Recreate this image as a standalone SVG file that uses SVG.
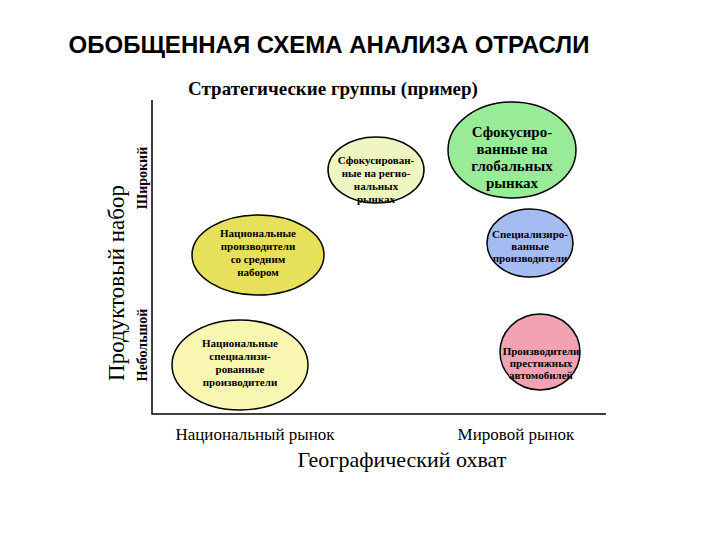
<svg xmlns="http://www.w3.org/2000/svg" width="720" height="540" viewBox="0 0 720 540">
<style>
.e{stroke:#000;stroke-width:1.5}
.t{font-family:"Liberation Serif",serif;font-weight:bold;fill:#000;text-anchor:middle}
.s{font-size:11px}
.m{font-size:15px}
.l{font-family:"Liberation Serif",serif;fill:#000;text-anchor:middle}
</style>
<rect width="720" height="540" fill="#fff"/>
<text x="329" y="53" font-family="Liberation Sans,sans-serif" font-weight="bold" font-size="24" text-anchor="middle">ОБОБЩЕННАЯ СХЕМА АНАЛИЗА ОТРАСЛИ</text>
<text x="333" y="95" class="t" style="font-size:19px">Стратегические группы (пример)</text>
<g id="axes" stroke="#000" stroke-width="1.5" fill="none">
<polyline points="152,100 152,414 606,414"/>
</g>
<text class="l" font-size="23" transform="translate(124,283) rotate(-90)">Продуктовый  набор</text>
<text class="t" font-size="14" transform="translate(147,178) rotate(-90)">Широкий</text>
<text class="t" font-size="14" transform="translate(147,345) rotate(-90)">Небольшой</text>
<text x="255" y="440" class="l" font-size="17">Национальный рынок</text>
<text x="516" y="440" class="l" font-size="17">Мировой рынок</text>
<text x="402" y="467" class="l" font-size="22">Географический  охват</text>
<g id="n1"><ellipse class="e" cx="376" cy="170" rx="48" ry="33" fill="#eef5c0"/>
<text class="t s"><tspan x="376" y="164">Сфокусирован-</tspan><tspan x="376" y="177">ные на регио-</tspan><tspan x="376" y="190">нальных</tspan><tspan x="376" y="203">рынках</tspan></text></g>
<g id="n2"><ellipse class="e" cx="512" cy="150" rx="64" ry="48" fill="#98ec98"/>
<text class="t m"><tspan x="512" y="137">Сфокусиро-</tspan><tspan x="512" y="154">ванные на</tspan><tspan x="512" y="171">глобальных</tspan><tspan x="512" y="188">рынках</tspan></text></g>
<g id="n3"><ellipse class="e" cx="258" cy="255" rx="66" ry="40" fill="#e6e05a"/>
<text class="t s"><tspan x="258" y="237">Национальные</tspan><tspan x="258" y="250">производители</tspan><tspan x="258" y="263">со средним</tspan><tspan x="258" y="276">набором</tspan></text></g>
<g id="n4"><ellipse class="e" cx="530" cy="243" rx="43" ry="34" fill="#a4bcf2"/>
<text class="t s"><tspan x="530" y="238">Специализиро-</tspan><tspan x="530" y="250">ванные</tspan><tspan x="530" y="262">производители</tspan></text></g>
<g id="n5"><ellipse class="e" cx="240" cy="365" rx="68" ry="45" fill="#f8f6b0"/>
<text class="t s"><tspan x="240" y="347">Национальные</tspan><tspan x="240" y="360">специализи-</tspan><tspan x="240" y="373">рованные</tspan><tspan x="240" y="386">производители</tspan></text></g>
<g id="n6"><ellipse class="e" cx="540" cy="352" rx="40" ry="38" fill="#f2a2b2"/>
<text class="t s"><tspan x="541" y="355">Производители</tspan><tspan x="541" y="367">престижных</tspan><tspan x="541" y="379">автомобилей</tspan></text></g>
</svg>
